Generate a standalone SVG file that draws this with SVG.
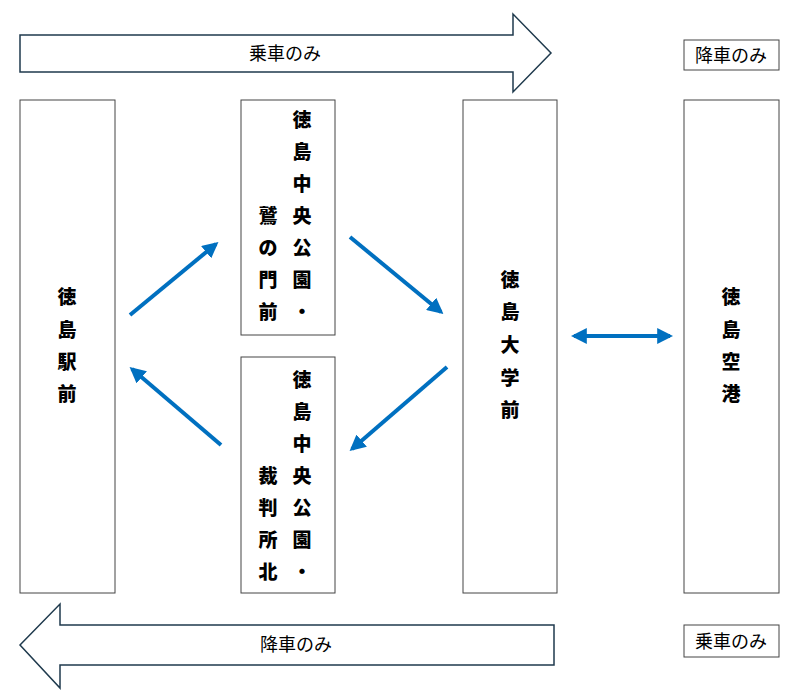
<svg xmlns="http://www.w3.org/2000/svg" width="800" height="697" viewBox="0 0 800 697">
<style>
.box{fill:#fff;stroke:#444;stroke-width:1}
.v{font-family:"Noto Sans CJK JP",sans-serif;font-weight:900;font-size:19px;text-anchor:middle;fill:#000}
.l{font-family:"Noto Sans CJK JP",sans-serif;font-size:18px;text-anchor:middle;fill:#000}
.c{stroke:#0070c0;stroke-width:4;fill:none}
.big{fill:#fff;stroke:#1f3a4d;stroke-width:1.5}
</style>
<defs><marker id="a" viewBox="0 0 10 10" refX="8" refY="5" markerWidth="4" markerHeight="4" orient="auto-start-reverse"><path d="M0,0L10,5L0,10z" fill="#0070c0"/></marker></defs>
<g id="top-arrow"><path class="big" d="M20,35H513V14L551,53L513,92V72H20z"/><text class="l" x="285" y="60">乗車のみ</text></g>
<g id="top-label"><rect class="box" x="684" y="40" width="95" height="30"/><text class="l" x="731" y="62">降車のみ</text></g>
<g id="bottom-arrow"><path class="big" d="M20,645L60,604V625H554V665H60V688z"/><text class="l" x="296" y="651">降車のみ</text></g>
<g id="bottom-label"><rect class="box" x="684" y="625" width="95" height="32"/><text class="l" x="731" y="648">乗車のみ</text></g>
<g id="n1"><rect class="box" x="20" y="100" width="95" height="493"/><text class="v" x="67"><tspan x="67" y="304">徳</tspan><tspan x="67" y="337">島</tspan><tspan x="67" y="369">駅</tspan><tspan x="67" y="401">前</tspan></text></g>
<g id="n2"><rect class="box" x="241" y="100" width="94" height="235"/><text class="v"><tspan x="302" y="127">徳</tspan><tspan x="302" y="159">島</tspan><tspan x="302" y="191">中</tspan><tspan x="302" y="223">央</tspan><tspan x="302" y="255">公</tspan><tspan x="302" y="287">園</tspan><tspan x="302" y="319">・</tspan><tspan x="268" y="223">鷲</tspan><tspan x="268" y="255">の</tspan><tspan x="268" y="287">門</tspan><tspan x="268" y="319">前</tspan></text></g>
<g id="n3"><rect class="box" x="241" y="357" width="94" height="236"/><text class="v"><tspan x="302" y="387">徳</tspan><tspan x="302" y="419">島</tspan><tspan x="302" y="451">中</tspan><tspan x="302" y="483">央</tspan><tspan x="302" y="515">公</tspan><tspan x="302" y="547">園</tspan><tspan x="302" y="579">・</tspan><tspan x="268" y="483">裁</tspan><tspan x="268" y="515">判</tspan><tspan x="268" y="547">所</tspan><tspan x="268" y="579">北</tspan></text></g>
<g id="n4"><rect class="box" x="463" y="100" width="94" height="493"/><text class="v"><tspan x="510" y="287">徳</tspan><tspan x="510" y="319">島</tspan><tspan x="510" y="352">大</tspan><tspan x="510" y="385">学</tspan><tspan x="510" y="417">前</tspan></text></g>
<g id="n5"><rect class="box" x="684" y="100" width="95" height="493"/><text class="v"><tspan x="731" y="304">徳</tspan><tspan x="731" y="337">島</tspan><tspan x="731" y="369">空</tspan><tspan x="731" y="401">港</tspan></text></g>
<g id="connectors">
<line class="c" x1="130" y1="315" x2="216" y2="244" marker-end="url(#a)"/>
<line class="c" x1="350" y1="237" x2="441" y2="312" marker-end="url(#a)"/>
<line class="c" x1="447" y1="367" x2="352" y2="449" marker-end="url(#a)"/>
<line class="c" x1="221" y1="445" x2="132" y2="369" marker-end="url(#a)"/>
<line class="c" x1="574" y1="336" x2="670" y2="336" marker-start="url(#a)" marker-end="url(#a)"/>
</g>
</svg>
